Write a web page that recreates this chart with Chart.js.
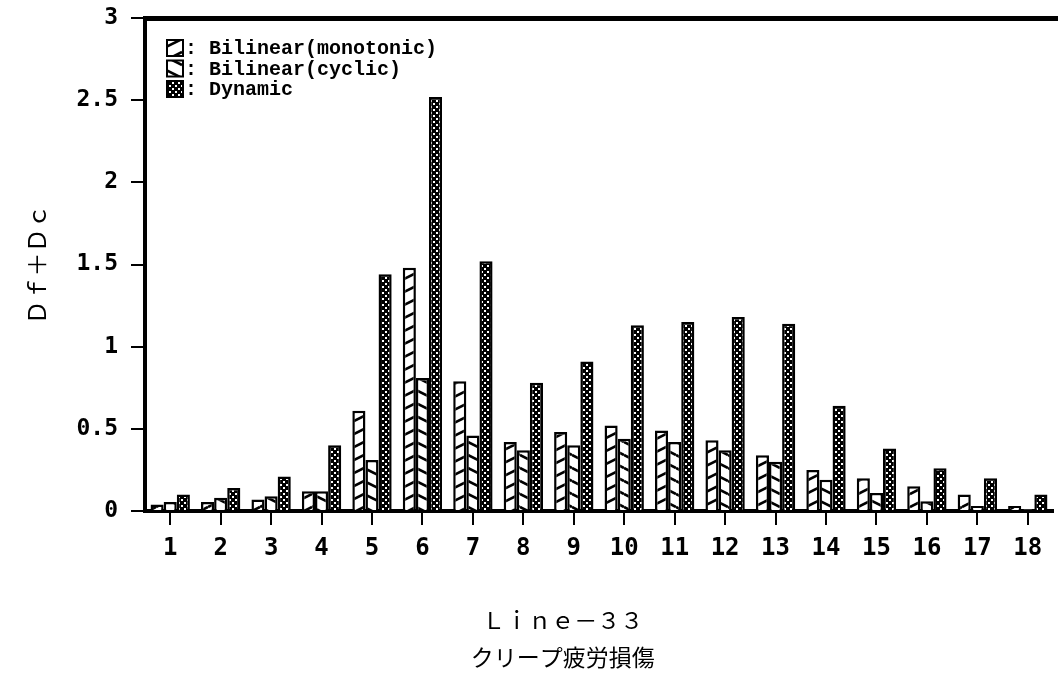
<!DOCTYPE html>
<html>
<head>
<meta charset="utf-8">
<script src="https://cdn.jsdelivr.net/npm/chart.js@4.4.1/dist/chart.umd.min.js"></script>
<style>
  html, body { margin: 0; padding: 0; background: #fff; }
  #wrap { width: 1058px; height: 673px; }
</style>
</head>
<body>
<div id="wrap"><canvas id="c" width="1058" height="673"></canvas></div>
<script>
// Line-33: creep-fatigue damage (Df+Dc) per location
const categories = ['1','2','3','4','5','6','7','8','9','10','11','12','13','14','15','16','17','18'];
const monotonic = [0.04,0.055,0.07,0.12,0.61,1.48,0.79,0.42,0.48,0.52,0.49,0.43,0.34,0.25,0.20,0.15,0.10,0.03];
const cyclic    = [0.055,0.08,0.09,0.12,0.31,0.81,0.46,0.37,0.40,0.44,0.42,0.37,0.30,0.19,0.11,0.06,0.03,0.01];
const dynamic   = [0.10,0.14,0.21,0.40,1.44,2.52,1.52,0.78,0.91,1.13,1.15,1.18,1.14,0.64,0.38,0.26,0.20,0.10];
const seriesNames = ['Bilinear(monotonic)', 'Bilinear(cyclic)', 'Dynamic'];
const yTicks = { min: 0, max: 3, step: 0.5 };
const xTitle = 'Ｌｉｎｅ－３３';
const yTitle = 'Ｄｆ＋Ｄｃ';
const caption = 'クリープ疲労損傷';

// fill textures: "/" hatch, "\" hatch and a dark dotted screen
function hatch(rising) {
  const w = 26, h = 13;
  const c = document.createElement('canvas');
  c.width = w; c.height = h;
  const g = c.getContext('2d');
  g.fillStyle = '#fff'; g.fillRect(0, 0, w, h);
  g.strokeStyle = '#000'; g.lineWidth = 2.6;
  for (let j = -1; j <= 1; j++) {
    g.beginPath();
    if (rising) { g.moveTo(0, h + h * j); g.lineTo(w, h * j); }
    else { g.moveTo(0, h * j); g.lineTo(w, h + h * j); }
    g.stroke();
  }
  return g.createPattern(c, 'repeat');
}
function screen() {
  const c = document.createElement('canvas');
  c.width = 6; c.height = 6;
  const g = c.getContext('2d');
  g.fillStyle = '#000'; g.fillRect(0, 0, 6, 6);
  g.fillStyle = '#fff';
  g.fillRect(1, 1, 2, 2);
  g.fillRect(4, 4, 2, 2);
  return g.createPattern(c, 'repeat');
}
const ctx0 = document.getElementById('c').getContext('2d');
const fills = [hatch(true), hatch(false), screen()];

// heavy top frame line
const frameTop = {
  id: 'frameTop',
  afterDatasetsDraw(chart) {
    const { ctx, chartArea } = chart;
    ctx.save();
    ctx.fillStyle = '#000';
    ctx.fillRect(chartArea.left - 2, chartArea.top - 2, chart.width - chartArea.left + 2, 5);
    ctx.restore();
  }
};

// legend with texture swatches inside the plot
const swatchLegend = {
  id: 'swatchLegend',
  afterDraw(chart) {
    const { ctx, chartArea } = chart;
    const x = chartArea.left + 22, y0 = chartArea.top + 22, row = 20.5;
    ctx.save();
    chart.data.datasets.forEach((ds, i) => {
      const y = y0 + i * row;
      ctx.fillStyle = ds.backgroundColor;
      ctx.fillRect(x, y, 16, 16);
      ctx.strokeStyle = '#000'; ctx.lineWidth = 2;
      ctx.strokeRect(x, y, 16, 16);
      ctx.fillStyle = '#000';
      ctx.font = 'bold 20px "Liberation Mono"';
      ctx.textBaseline = 'middle';
      ctx.fillText(': ' + ds.label, x + 18, y + 9);
    });
    ctx.restore();
  }
};

// axis title and caption under the plot
const bottomTitles = {
  id: 'bottomTitles',
  afterDraw(chart) {
    const { ctx, chartArea } = chart;
    const cx = chartArea.left + (chartArea.right - chartArea.left) * 0.46;
    ctx.save();
    ctx.fillStyle = '#000';
    ctx.textAlign = 'center';
    ctx.textBaseline = 'middle';
    ctx.font = '23px "Noto Sans CJK JP"';
    ctx.fillText(xTitle, cx, chartArea.bottom + 109);
    ctx.fillText(caption, cx, chartArea.bottom + 146);
    ctx.restore();
  }
};

const series = [monotonic, cyclic, dynamic];
new Chart(ctx0, {
  type: 'bar',
  data: {
    labels: categories,
    datasets: series.map((vals, i) => ({
      label: seriesNames[i],
      data: vals,
      backgroundColor: fills[i],
      borderColor: '#000',
      borderWidth: 2.5,
      borderSkipped: 'bottom',
      categoryPercentage: 0.78,
      barPercentage: 1.0
    }))
  },
  options: {
    responsive: false,
    animation: false,
    devicePixelRatio: 1,
    layout: { padding: { top: 18, right: 5, left: 0, bottom: 0 } },
    plugins: {
      legend: { display: false },
      tooltip: { enabled: false },
      title: { display: false }
    },
    scales: {
      x: {
        afterFit(scale) { scale.height = 162; },
        border: { display: true, color: '#000', width: 4 },
        grid: { display: true, drawOnChartArea: false, drawTicks: true, tickLength: 14, color: '#000', lineWidth: 2, offset: false },
        ticks: { color: '#000', padding: 9, maxRotation: 0, autoSkip: false, font: { family: '"DejaVu Sans Mono"', size: 24, weight: 'bold' } },
        title: { display: false }
      },
      y: {
        min: yTicks.min,
        max: yTicks.max,
        afterFit(scale) { scale.width = 145; scale.paddingTop = 0; scale.paddingBottom = 0; },
        border: { display: true, color: '#000', width: 4 },
        grid: { display: true, drawOnChartArea: false, drawTicks: true, tickLength: 14, color: '#000', lineWidth: 2 },
        ticks: {
          stepSize: yTicks.step,
          color: '#000',
          padding: 13,
          font: { family: '"DejaVu Sans Mono"', size: 23, weight: 'bold' },
          callback: (v) => String(v)
        },
        title: {
          display: true,
          text: yTitle,
          color: '#000',
          font: { family: '"Noto Sans CJK JP"', size: 24, lineHeight: 1.2 },
          padding: { top: 22, bottom: 22 }
        }
      }
    }
  },
  plugins: [frameTop, swatchLegend, bottomTitles]
});
</script>
</body>
</html>
